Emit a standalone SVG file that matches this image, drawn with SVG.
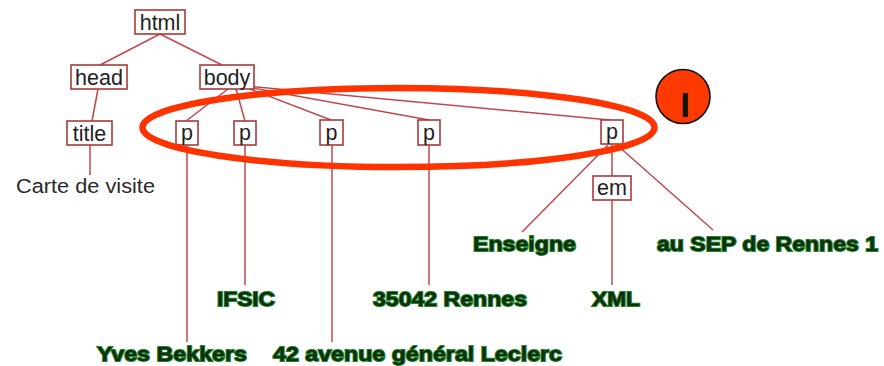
<svg xmlns="http://www.w3.org/2000/svg" width="884" height="366" viewBox="0 0 884 366">
  <style>
    .box rect { fill: #ffffff; stroke: #a83a3a; stroke-width: 1.6; }
    .box text { font-family: "Liberation Sans", Arial, sans-serif; font-size: 21.5px; fill: #1e1e1e; text-anchor: middle; }
    .edge line { stroke: #c0484c; stroke-width: 1.5; }
    .leaf { font-family: "Liberation Sans", Arial, sans-serif; font-weight: bold; font-size: 21px; fill: #0f300f; stroke: #23862a; stroke-width: 1.8; paint-order: stroke; text-anchor: middle; }
    .plain { font-family: "Liberation Sans", Arial, sans-serif; font-size: 20px; fill: #2a2a2a; }
  </style>

  <rect width="884" height="366" fill="#ffffff"/>

  <!-- connectors -->
  <g id="edges" class="edge">
    <line x1="160" y1="34" x2="100" y2="65"/>
    <line x1="160" y1="34" x2="222" y2="65"/>
    <line x1="98" y1="89" x2="92" y2="121"/>
    <line x1="90" y1="145" x2="90" y2="175"/>
    <line x1="228" y1="89" x2="186" y2="121"/>
    <line x1="236" y1="89" x2="245" y2="121"/>
    <line x1="250" y1="89" x2="331" y2="120"/>
    <line x1="252" y1="88" x2="429" y2="120"/>
    <line x1="246" y1="86" x2="610" y2="120"/>
    <line x1="187" y1="145" x2="187" y2="342"/>
    <line x1="245" y1="145" x2="245" y2="285"/>
    <line x1="332" y1="145" x2="332" y2="342"/>
    <line x1="429" y1="145" x2="429" y2="285"/>
    <line x1="612" y1="144" x2="612" y2="176"/>
    <line x1="612" y1="200" x2="612" y2="285"/>
    <line x1="608" y1="145" x2="522" y2="232"/>
    <line x1="617" y1="145" x2="713" y2="230"/>
  </g>

  <!-- element nodes -->
  <g id="n-html" class="box"><rect x="135" y="10" width="50" height="24"/><text x="160" y="29.5">html</text></g>
  <g id="n-head" class="box"><rect x="71" y="65" width="56" height="24"/><text x="99" y="84.5">head</text></g>
  <g id="n-body" class="box"><rect x="200" y="65" width="54" height="24"/><text x="227" y="84.5">body</text></g>
  <g id="n-title" class="box"><rect x="67" y="121" width="45" height="24"/><text x="89.5" y="140.5">title</text></g>
  <g id="n-p1" class="box"><rect x="176" y="121" width="22" height="24"/><text x="187" y="140">p</text></g>
  <g id="n-p2" class="box"><rect x="234" y="121" width="22" height="24"/><text x="245" y="140">p</text></g>
  <g id="n-p3" class="box"><rect x="320" y="120" width="23" height="25"/><text x="331.5" y="140">p</text></g>
  <g id="n-p4" class="box"><rect x="418" y="120" width="22" height="25"/><text x="429" y="140">p</text></g>
  <g id="n-p5" class="box"><rect x="601" y="120" width="22" height="24"/><text x="612" y="139">p</text></g>
  <g id="n-em" class="box"><rect x="593" y="176" width="38" height="24"/><text x="612" y="195">em</text></g>

  <!-- text nodes -->
  <g id="t-carte"><text class="plain" x="16" y="193" textLength="139" lengthAdjust="spacingAndGlyphs">Carte de visite</text></g>
  <g id="t-enseigne"><text class="leaf" x="524.5" y="251" textLength="103" lengthAdjust="spacingAndGlyphs">Enseigne</text></g>
  <g id="t-sep"><text class="leaf" x="767.5" y="251" textLength="221" lengthAdjust="spacingAndGlyphs">au SEP de Rennes 1</text></g>
  <g id="t-xml"><text class="leaf" x="616" y="306" textLength="48" lengthAdjust="spacingAndGlyphs">XML</text></g>
  <g id="t-ifsic"><text class="leaf" x="246" y="306" textLength="58" lengthAdjust="spacingAndGlyphs">IFSIC</text></g>
  <g id="t-rennes"><text class="leaf" x="450" y="306" textLength="154" lengthAdjust="spacingAndGlyphs">35042 Rennes</text></g>
  <g id="t-yves"><text class="leaf" x="172" y="361" textLength="150" lengthAdjust="spacingAndGlyphs">Yves Bekkers</text></g>
  <g id="t-addr"><text class="leaf" x="417.5" y="361" textLength="289" lengthAdjust="spacingAndGlyphs">42 avenue général Leclerc</text></g>

  <!-- highlight of the p children and its marker -->
  <g id="highlight">
    <ellipse cx="398.5" cy="127.5" rx="256" ry="39.5" fill="none" stroke="#ff3300" stroke-width="6.5"/>
  </g>
  <g id="marker-I">
    <circle cx="683" cy="96.5" r="27" fill="#ff3a00" stroke="#111111" stroke-width="1.6"/>
    <text x="685" y="117" font-family="Liberation Sans, Arial, sans-serif" font-weight="bold" font-size="35" fill="#111111" text-anchor="middle">I</text>
  </g>
</svg>
